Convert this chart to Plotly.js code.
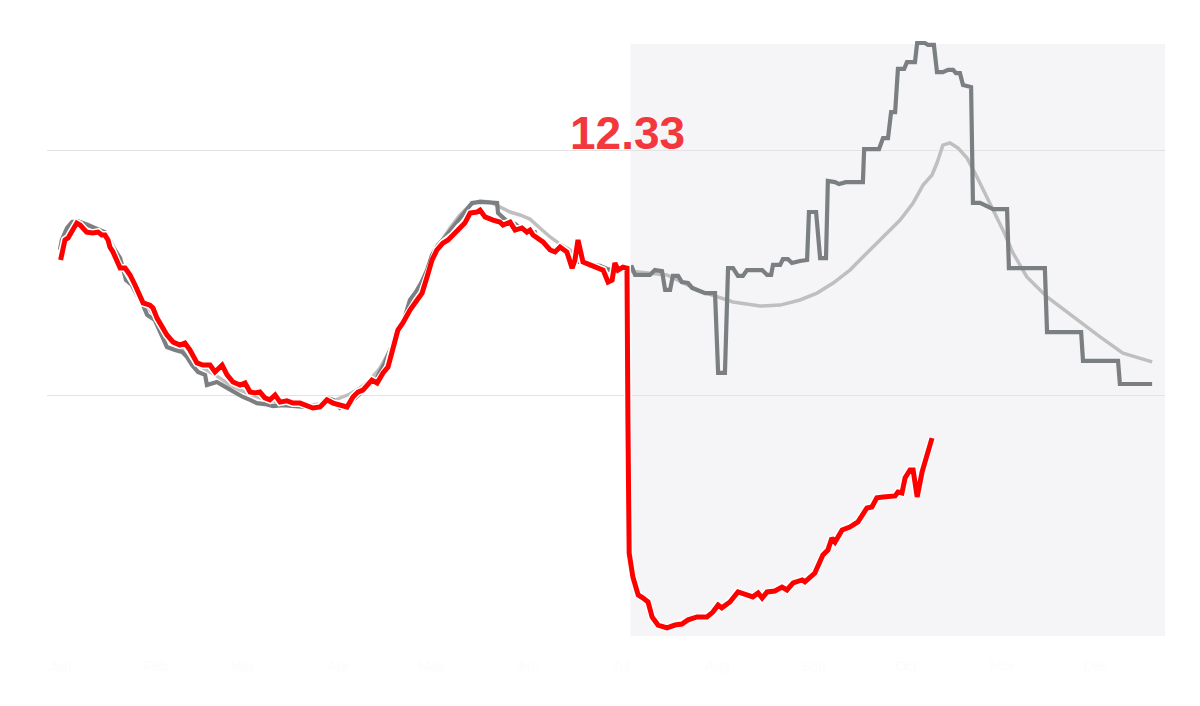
<!DOCTYPE html>
<html>
<head>
<meta charset="utf-8">
<script src="https://cdn.plot.ly/plotly-3.0.1.min.js"></script>
<style>html,body{margin:0;padding:0;background:#fff;}#chart{width:1200px;height:706px;}</style>
</head>
<body>
<div id="chart"></div>
<script>
// Month ticks (day of year)
const monthDays = [0, 31, 59, 90, 120, 151, 181, 212, 243, 273, 304, 334];
const monthLabels = ["Jan", "Feb", "Mar", "Apr", "May", "Jun", "Jul", "Aug", "Sep", "Oct", "Nov", "Dec"];

// Highlighted (red) series
const redDays = [0.2,1.6,2.6,5.4,6.5,8.6,10.6,12.3,13.5,14.5,15.5,16.1,17.1,18.4,19.4,21.0,22.6,24.2,25.8,26.8,29.0,30.0,31.3,32.9,34.5,36.5,38.7,40.3,41.9,44.2,46.1,48.4,50.0,52.3,53.9,55.8,58.1,59.7,61.3,62.9,64.5,66.1,67.7,69.4,71.0,73.2,75.2,77.4,79.7,81.6,83.9,86.1,88.1,90.3,92.6,94.5,96.1,97.7,100.6,102.3,104.2,105.8,107.4,109.0,110.6,112.9,115.2,116.8,118.4,120.0,121.6,123.5,125.2,126.8,129.0,130.6,132.3,134.5,135.5,137.1,139.7,141.9,142.9,145.2,146.8,149.0,150.6,151.6,152.6,154.2,155.8,158.1,159.7,161.3,163.5,165.2,166.1,167.1,168.7,171.0,173.2,175.2,176.8,178.1,179.0,180.0,181.6,182.9,183.2,183.6,184.8,186.5,188.1,189.7,191.0,192.9,195.8,198.4,200.6,202.6,205.5,208.7,210.6,212.3,213.5,216.1,218.7,221.0,223.5,225.2,226.5,228.1,230.6,232.9,234.5,236.5,239.4,240.3,241.9,243.5,246.1,247.7,249.0,250.0,252.3,254.8,257.4,260.3,261.9,263.5,265.5,269.4,270.3,271.6,272.6,274.2,275.2,276.5,278.1,279.0,281.3];
const redValues = [15.51,16.33,16.41,17.02,16.94,16.65,16.61,16.65,16.53,16.53,16.33,16.04,15.84,15.43,15.18,15.18,14.90,14.49,14.00,13.76,13.67,13.55,13.14,12.78,12.45,12.16,12.04,12.12,11.84,11.31,11.22,11.22,10.94,11.22,10.82,10.53,10.41,10.49,10.12,10.08,10.12,9.88,9.80,10.00,9.71,9.76,9.67,9.67,9.55,9.47,9.51,9.80,9.67,9.59,9.51,9.92,10.12,10.20,10.61,10.49,10.90,11.14,11.96,12.65,12.94,13.47,13.88,14.16,14.82,15.51,15.92,16.20,16.33,16.53,16.86,17.02,17.43,17.47,17.55,17.27,17.14,17.06,16.94,17.06,16.73,16.82,16.65,16.73,16.53,16.41,16.25,15.92,15.84,16.04,15.84,15.18,15.51,16.33,15.43,15.31,15.18,15.10,14.61,14.69,15.39,15.10,15.22,15.18,8.98,3.55,2.57,1.84,1.71,1.55,0.94,0.61,0.49,0.61,0.65,0.82,0.94,0.94,1.14,1.43,1.31,1.55,1.96,1.84,1.76,1.92,1.71,1.96,2.00,2.16,2.04,2.33,2.45,2.37,2.57,2.73,3.47,3.67,4.16,4.00,4.49,4.61,4.82,5.39,5.43,5.80,5.84,5.88,6.04,6.00,6.61,6.94,6.94,5.84,6.86,7.22,8.24];

// Reported (dark grey, stepped) series
const stepDays = [0,0.6,2.3,3.9,5.8,8.1,11.3,14.5,16.1,17.7,19.4,20.3,21.3,23.2,24.8,26.5,28.1,30.6,32.9,34.5,37.1,39.4,41.0,42.6,44.5,46.8,47.4,50.6,53.9,56.5,59.0,61.3,63.5,66.1,68.7,71.9,75.2,79.0,82.9,84.5,86.1,88.1,90.3,93.5,95.5,97.4,99.4,101.6,103.2,104.8,106.5,108.4,109.7,111.3,112.9,114.8,116.5,118.4,120.0,121.9,123.5,125.2,127.4,129.7,131.3,132.9,135.5,138.7,141.0,141.3,144.5,146.8,148.4,151.6,153.2,154.2,156.5,158.7,161.3,162.9,164.5,166.1,168.7,171.0,174.2,177.4,180.6,182.6,184.5,185.5,190.3,191.9,194.2,195.2,196.8,197.7,199.4,200.6,202.6,203.9,206.5,208.1,211.3,212.3,214.5,215.5,217.1,218.7,220.3,221.6,226.5,228.1,229.4,230.0,232.3,233.2,234.8,236.1,238.7,241.0,241.6,243.9,245.2,247.1,247.7,250.0,251.3,253.5,259.0,259.4,264.2,265.5,267.1,268.1,269.4,270.3,272.3,273.2,275.8,276.5,279.0,280.0,281.9,282.9,284.8,286.5,288.1,289.0,290.3,291.3,293.9,294.5,296.8,299.4,301.0,305.5,306.1,317.7,318.4,329.4,330.0,341.3,341.9,352.3];
const stepValues = [15.92,16.33,16.82,17.06,17.10,16.98,16.82,16.65,16.33,15.92,15.59,15.10,14.69,14.49,14.08,13.76,13.27,13.06,12.45,11.96,11.84,11.76,11.55,11.22,10.94,10.82,10.41,10.53,10.29,10.08,9.92,9.80,9.67,9.63,9.55,9.59,9.55,9.51,9.47,9.51,9.88,9.80,9.47,9.67,9.88,10.12,10.37,10.53,10.94,11.31,11.84,12.37,12.86,13.22,13.88,14.20,14.57,15.10,15.71,16.12,16.33,16.61,16.94,17.35,17.63,17.84,17.88,17.84,17.84,17.43,17.06,16.98,16.82,16.65,16.65,16.33,16.12,16.00,16.00,15.92,15.63,15.43,15.43,15.31,15.27,15.10,15.10,15.18,15.22,14.90,14.90,15.10,15.06,14.29,14.29,14.86,14.86,14.61,14.57,14.37,14.24,14.16,14.16,10.90,10.90,15.18,15.18,14.86,14.86,15.10,15.10,14.90,14.90,15.31,15.31,15.55,15.55,15.39,15.47,15.51,17.47,17.47,15.59,15.59,18.74,18.69,18.61,18.69,18.69,20.04,20.04,20.49,20.49,21.55,21.55,23.31,23.31,23.59,23.59,24.37,24.37,24.29,24.29,23.18,23.18,23.27,23.27,23.14,23.14,22.65,22.57,17.84,17.84,17.71,17.59,17.59,15.18,15.18,12.57,12.57,11.39,11.39,10.45,10.45];

// Smoothed average (light grey) series
const avgDays = [0,1.6,3.9,5.8,9.0,12.9,16.1,19.4,22.6,25.8,29.0,32.3,35.5,38.7,41.9,45.2,48.4,51.6,54.8,58.1,61.3,64.5,67.7,71.0,74.2,77.4,80.6,83.9,87.1,90.3,93.5,96.8,100.0,103.2,106.5,109.7,112.9,116.1,119.4,122.6,125.8,129.0,132.3,135.5,138.7,141.9,145.2,148.4,151.6,154.8,158.1,161.3,164.5,167.7,171.0,174.2,177.4,180.6,184.5,195.8,206.5,211.9,217.1,225.8,232.3,238.7,244.2,249.4,254.8,260.3,265.5,271.0,275.2,278.4,281.3,282.9,284.8,287.1,289.7,292.6,295.8,300.0,304.2,307.4,311.9,318.4,326.8,335.5,342.9,352.3];
const avgValues = [16.00,16.65,16.98,17.10,16.98,16.73,16.25,15.43,14.78,14.04,13.47,12.90,12.37,11.96,11.55,11.18,10.94,10.69,10.41,10.20,10.04,9.88,9.76,9.67,9.63,9.63,9.59,9.63,9.71,9.88,10.04,10.29,10.61,11.10,11.84,12.65,13.47,14.29,15.31,16.20,16.82,17.35,17.76,17.92,17.88,17.67,17.47,17.35,17.18,16.82,16.45,16.16,15.92,15.51,15.31,15.18,15.14,15.10,15.06,14.90,14.24,14.00,13.80,13.63,13.67,13.88,14.16,14.57,15.10,15.80,16.45,17.14,17.84,18.57,18.98,19.47,20.20,20.29,20.08,19.67,18.90,17.84,16.73,15.80,14.82,14.00,13.18,12.37,11.71,11.35];

const gridValues = [10, 20];
const shadeStart = 184;
const labelText = "12.33";

const traces = [
  {x: avgDays, y: avgValues, type: "scatter", mode: "lines", hoverinfo: "skip",
   line: {color: "#bfbfbf", width: 3.5}},
  {x: stepDays, y: stepValues, type: "scatter", mode: "lines", hoverinfo: "skip",
   line: {color: "#7b7f82", width: 4.2}},
  {x: redDays, y: redValues, type: "scatter", mode: "lines", hoverinfo: "skip",
   line: {color: "#ffffff", width: 8}},
  {x: redDays, y: redValues, type: "scatter", mode: "lines", hoverinfo: "skip",
   line: {color: "#ff0000", width: 5}}
];

const xMin = -4.19, xMax = 356.45;
const layout = {
  width: 1200, height: 706,
  margin: {l: 47, r: 35, t: 30, b: 60},
  paper_bgcolor: "#ffffff",
  plot_bgcolor: "#ffffff",
  showlegend: false,
  xaxis: {
    range: [xMin, xMax], showgrid: false, zeroline: false, showline: false,
    tickmode: "array", tickvals: monthDays, ticktext: monthLabels,
    ticks: "", ticklabelstandoff: 10,
    tickfont: {family: "Liberation Sans", size: 14, color: "#fcfcfc"}
  },
  yaxis: {
    range: [-0.246, 24.90], showgrid: true, gridcolor: "#e3e3e3", gridwidth: 1,
    tickmode: "array", tickvals: gridValues, showticklabels: false,
    zeroline: false, showline: false, ticks: ""
  },
  shapes: [{
    type: "rect", layer: "below", xref: "x", yref: "y",
    x0: shadeStart, x1: xMax, y0: 0.16, y1: 24.33,
    fillcolor: "#f5f4f7", line: {width: 0}
  }],
  annotations: [{
    text: "<b>" + labelText + "</b>", xref: "x", yref: "y",
    x: 183.2, y: 20.69, showarrow: false, xanchor: "center", yanchor: "middle",
    font: {family: "Liberation Sans", size: 46, color: "#f2383d"}
  }]
};

Plotly.newPlot("chart", traces, layout, {staticPlot: true, displayModeBar: false});
</script>
</body>
</html>
